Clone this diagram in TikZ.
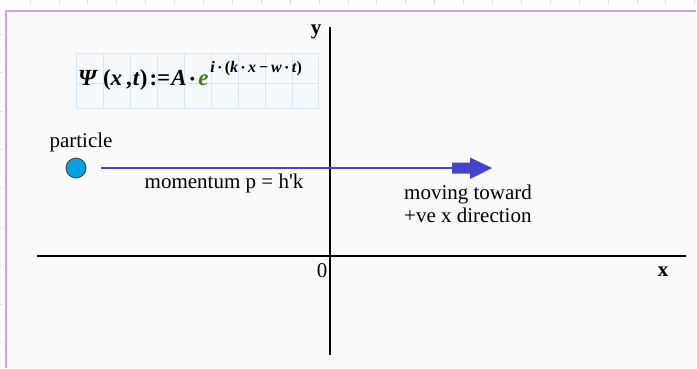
\documentclass[tikz,border=0pt]{standalone}
\usepackage{fontspec}
\setmainfont{Liberation Serif}[Ligatures=TeXOff]
\definecolor{frame}{HTML}{D4A0D8}
\definecolor{tick}{HTML}{CFE2F8}
\definecolor{gridc}{HTML}{D6E6F6}
\definecolor{boxfill}{HTML}{F6F9FC}
\definecolor{arrowc}{HTML}{4444CC}
\definecolor{partc}{HTML}{0AA0E0}
\definecolor{egreen}{HTML}{4A7A20}
\newcommand{\bi}[1]{\textbf{\textit{#1}}}
\newcommand{\cd}{\kern3pt\raisebox{0.02em}{\scalebox{0.7}{\textbullet}}\kern3pt}
\begin{document}
\begin{tikzpicture}[x=1pt,y=-1pt,
  lbl/.style={font=\fontsize{21}{23}\selectfont, inner sep=0pt},
  axislbl/.style={font=\bfseries\fontsize{21}{23}\selectfont, inner sep=0pt},
  axis/.style={line width=2.6pt, black},
  movearrow/.style={arrowc, line width=1.6pt}]
\useasboundingbox (0,0) rectangle (697,368);
\fill[white!98!black] (6,11) rectangle (697,368);
% page ticks
\foreach \i in {0,...,23} \draw[tick, line width=0.8pt] (30+28.9*\i,0) -- (30+28.9*\i,4);
\foreach \j in {0,...,8} \draw[tick, line width=0.8pt] (0,34+38.6*\j) -- (2,34+38.6*\j);
% frame
\draw[frame, line width=1.2pt] (6,368) -- (6,11) -- (696,11);
% formula box
\fill[boxfill] (76,53) rectangle (318,108);
\draw[gridc, line width=0.6pt] (76,53) rectangle (318,108);
\foreach \gx in {103,130,157,184,211,238,265,292} \draw[gridc, line width=0.6pt] (\gx,53) -- (\gx,108);
\draw[gridc, line width=0.6pt] (76,83) -- (318,83);
\node[anchor=base west, inner sep=0pt, font=\fontsize{23}{25}\selectfont] (formula) at (78,85)
  {\bi{Ψ}\kern5pt\textbf{(}\bi{x}\kern4pt\textbf{,}\kern1pt\bi{t}\textbf{)}\kern2pt\textbf{:=}\kern1pt\bi{A}\cd\textcolor{egreen}{\bi{e}}\kern2pt\raisebox{13pt}{\fontsize{16}{17}\selectfont\bi{i}\cd\textbf{(}\bi{k}\cd\bi{x}\kern3pt\textbf{−}\kern3pt\bi{w}\cd\bi{t}\textbf{)}}};
% axes
\coordinate (xa) at (37,256);
\coordinate (xb) at (686,256);
\coordinate (ya) at (330,27);
\coordinate (yb) at (330,355);
\draw[axis] (xa) -- (xb);
\draw[axis] (ya) -- (yb);
\node[axislbl] (ylbl) at (316,32) {y};
\node[axislbl] (xlbl) at (663,272) {x};
\node[lbl] (zero) at (322,271) {0};
% particle
\node[lbl] (plbl) at (81,142) {particle};
\node[circle, draw=black!75, line width=0.8pt, fill=partc, minimum size=20pt, inner sep=0pt] (p) at (76,168) {};
\coordinate (shaft) at (452,168);
\draw[movearrow] (101,168) -- (shaft);
\fill[arrowc] (shaft) ++(0,-5.5) -- ++(18,0) -- ++(0,-5) -- (492,168) -- (470,179) -- ++(0,-5.5) -- ++(-18,0) -- cycle;
\node[lbl] (mom) at (224,183) {momentum p = h'k};
\node[lbl, anchor=west, align=left] (move) at (404,204) {moving toward\\+ve x direction};
\end{tikzpicture}
\end{document}
